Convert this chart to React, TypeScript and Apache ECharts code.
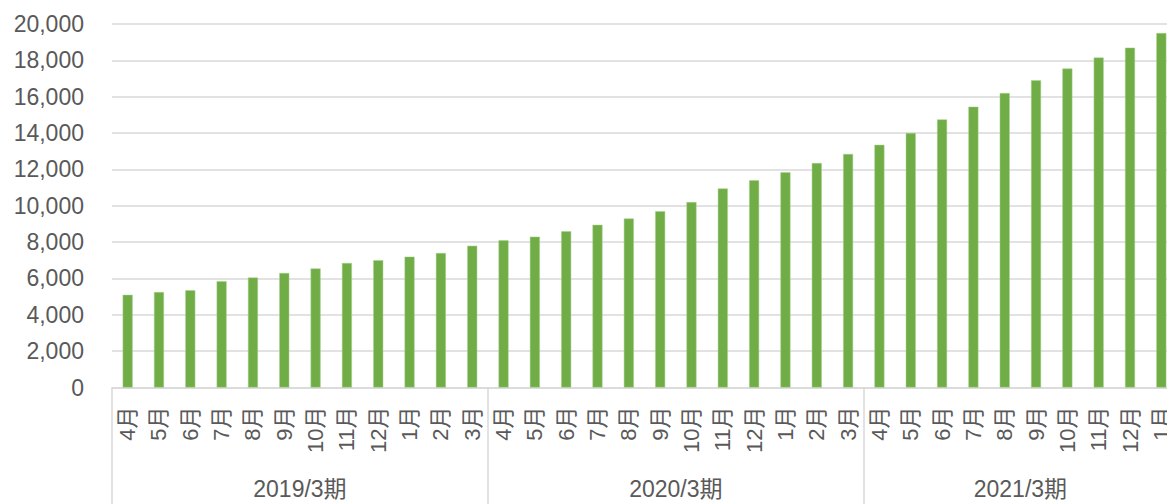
import React, { useEffect, useRef } from "react";
import * as echarts from "echarts";

const months = ["4月", "5月", "6月", "7月", "8月", "9月", "10月", "11月", "12月", "1月", "2月", "3月"];
const fiscalYears = ["2019/3期", "2020/3期", "2021/3期"];
const values2019 = [5100, 5250, 5350, 5850, 6050, 6300, 6550, 6850, 7000, 7200, 7400, 7800];
const values2020 = [8100, 8300, 8600, 8950, 9300, 9700, 10200, 10950, 11400, 11850, 12350, 12850];
const values2021 = [13350, 14000, 14750, 15450, 16200, 16900, 17550, 18150, 18700, 19500];
const groupSizes = [values2019.length, values2020.length, values2021.length];
const yMin = 0;
const yMax = 20000;
const yInterval = 2000;

const categories = [
  ...months.slice(0, groupSizes[0]),
  ...months.slice(0, groupSizes[1]),
  ...months.slice(0, groupSizes[2]),
];
const values = [...values2019, ...values2020, ...values2021];

const FONT = "'Liberation Sans', Arial, 'Noto Sans CJK JP', sans-serif";
const TEXT = "#595959";
const LINE = "#D9D9D9";

export default function App() {
  const ref = useRef<HTMLDivElement>(null);
  useEffect(() => {
    if (!ref.current) return;
    const chart = echarts.init(ref.current, undefined, { renderer: "svg" });
    const n = categories.length;
    const centers: Record<number, string> = {};
    let start = 0;
    groupSizes.forEach((s, i) => {
      centers[start + s / 2] = fiscalYears[i];
      start += s;
    });
    chart.setOption({
      animation: false,
      textStyle: { fontFamily: FONT },
      grid: { left: 112, right: 0, top: 24, bottom: 116.5, containLabel: false },
      xAxis: [
        {
          type: "category",
          data: categories,
          position: "bottom",
          axisLine: { show: true, lineStyle: { color: LINE, width: 1.5 } },
          axisTick: { show: false },
          axisLabel: {
            interval: 0,
            rotate: 90,
            margin: 19,
            fontSize: 22,
            color: TEXT,
            fontFamily: FONT,
          },
          splitLine: { show: false },
        },
        {
          type: "value",
          min: 0,
          max: n,
          interval: 12,
          position: "bottom",
          axisLine: { show: false },
          axisTick: { show: true, length: 120, lineStyle: { color: LINE, width: 1.5 } },
          axisLabel: { show: false },
          splitLine: { show: false },
        },
        {
          type: "value",
          min: 0,
          max: n,
          interval: 1,
          position: "bottom",
          axisLine: { show: false },
          axisTick: { show: false },
          axisLabel: {
            show: true,
            margin: 90,
            fontSize: 23,
            color: TEXT,
            fontFamily: FONT,
            showMinLabel: true,
            showMaxLabel: true,
            formatter: (v: number) => centers[v] ?? "",
          },
          splitLine: { show: false },
        },
      ],
      yAxis: {
        type: "value",
        min: yMin,
        max: yMax,
        interval: yInterval,
        axisLine: { show: false },
        axisTick: { show: false },
        axisLabel: {
          margin: 28,
          fontSize: 23,
          color: TEXT,
          fontFamily: FONT,
          formatter: (v: number) => v.toLocaleString("en-US"),
        },
        splitLine: { show: true, lineStyle: { color: LINE, width: 1.5 } },
      },
      series: [
        {
          type: "bar",
          xAxisIndex: 0,
          yAxisIndex: 0,
          data: values,
          barWidth: 10,
          itemStyle: { color: "#70AD47", borderColor: "#A9D08E", borderWidth: 0.5 },
        },
      ],
    });
    return () => chart.dispose();
  }, []);
  return (
    <div
      style={{
        position: "absolute",
        left: 0,
        top: 0,
        width: 1167,
        height: 504,
        overflow: "hidden",
      }}
    >
      <div ref={ref} style={{ width: 1180, height: 504 }} />
    </div>
  );
}
